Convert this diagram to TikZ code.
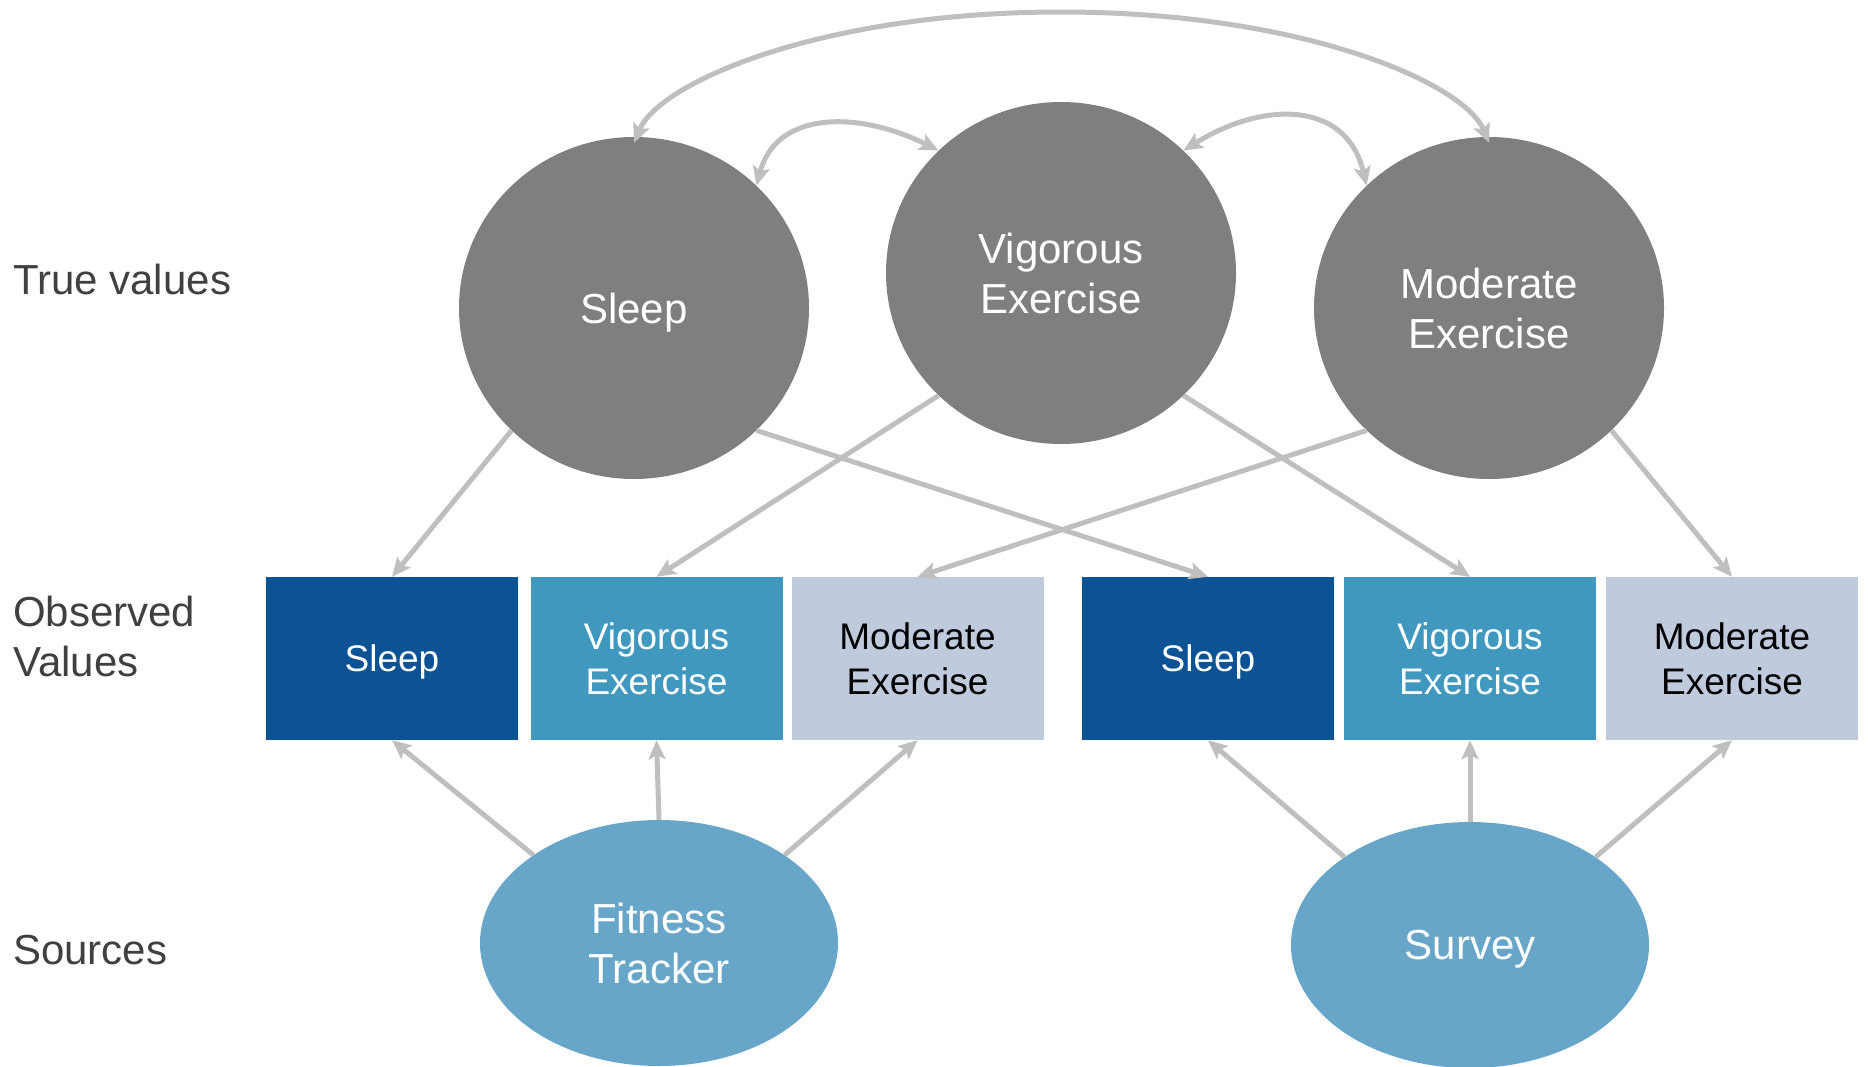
\documentclass[tikz,border=0pt]{standalone}
\usepackage{fontspec}
\setmainfont{Liberation Sans}
\usetikzlibrary{shapes.geometric,arrows.meta}
\definecolor{circgray}{HTML}{7F7F7F}
\definecolor{arrowgray}{HTML}{BFBFBF}
\definecolor{labgray}{HTML}{404040}
\definecolor{sleepblue}{HTML}{0B5394}
\definecolor{vigblue}{HTML}{4098BE}
\definecolor{modblue}{HTML}{BFCADD}
\definecolor{srcblue}{HTML}{67A6C9}
\begin{document}
\begin{tikzpicture}[x=1pt,y=-1pt,
  truev/.style={ellipse, fill=circgray, minimum width=350pt, minimum height=342pt,
    inner sep=0pt, text=white, font=\fontsize{42}{50}\selectfont, align=center},
  obs/.style={rectangle, minimum width=252pt, minimum height=163pt, inner sep=0pt,
    font=\fontsize{37}{45}\selectfont, align=center},
  src/.style={ellipse, fill=srcblue, minimum width=358pt, minimum height=246pt,
    inner sep=0pt, text=white, font=\fontsize{42}{50}\selectfont, align=center},
  oneline/.style={text depth=0pt},
  lab/.style={anchor=west, text=labgray, font=\fontsize{42}{50}\selectfont,
    align=left, inner sep=0pt},
  tip/.tip={Stealth[length=19pt,width=17pt,inset=4pt]},
  conn/.style={draw=arrowgray, line width=5pt, -tip},
  conntwo/.style={draw=arrowgray, line width=5pt, tip-tip}
]
\useasboundingbox (0,0) rectangle (1868,1066);

% left labels
\node[lab] (ltrue) at (13,279) {True values};
\node[lab] (lobs) at (13,636) {Observed\\Values};
\node[lab] (lsrc) at (13,950) {Sources};

% true values
\node[truev, oneline] (sleepC) at (634,308) {Sleep};
\node[truev] (vigC) at (1061,273) {Vigorous\\Exercise};
\node[truev] (modC) at (1489,308) {Moderate\\Exercise};

% observed values
\node[obs, oneline, fill=sleepblue, text=white] (b1) at (392,658.5) {Sleep};
\node[obs, fill=vigblue, text=white] (b2) at (656.5,658.5) {Vigorous\\Exercise};
\node[obs, fill=modblue, text=black] (b3) at (917.5,658.5) {Moderate\\Exercise};
\node[obs, oneline, fill=sleepblue, text=white] (b4) at (1208,658.5) {Sleep};
\node[obs, fill=vigblue, text=white] (b5) at (1470,658.5) {Vigorous\\Exercise};
\node[obs, fill=modblue, text=black] (b6) at (1732,658.5) {Moderate\\Exercise};

% sources
\node[src] (fit) at (659,943) {Fitness\\Tracker};
\node[src, oneline] (sur) at (1470,945) {Survey};

% true -> observed
\draw[conn] (sleepC.225) -- (b1.north);
\draw[conn] (sleepC.315) -- (b4.north);
\draw[conn] (vigC.225) -- (b2.north);
\draw[conn] (vigC.315) -- (b5.north);
\draw[conn] (modC.225) -- (b3.north);
\draw[conn] (modC.315) -- (b6.north);

% sources -> observed
\draw[conn] (fit.145) -- (b1.south);
\draw[conn] (fit.north) -- (b2.south);
\draw[conn] (fit.35) -- (b3.south);
\draw[conn] (sur.145) -- (b4.south);
\draw[conn] (sur.north) -- (b5.south);
\draw[conn] (sur.35) -- (b6.south);

% correlations
\coordinate (bigL) at ([yshift=-6pt]sleepC.north);
\coordinate (bigR) at ([yshift=-6pt]modC.north);
\coordinate (bigTop) at (1061,12);
\draw[conntwo] (bigL) .. controls +(25,-60) and (820,12) .. (bigTop)
  .. controls (1302,12) and +(-25,-60) .. (bigR);
\draw[conntwo] (sleepC.45) .. controls +(20,-75) and +(-80,-40) .. (vigC.135);
\draw[conntwo] (vigC.45) .. controls +(80,-50) and +(-20,-85) .. (modC.135);
\end{tikzpicture}
\end{document}
